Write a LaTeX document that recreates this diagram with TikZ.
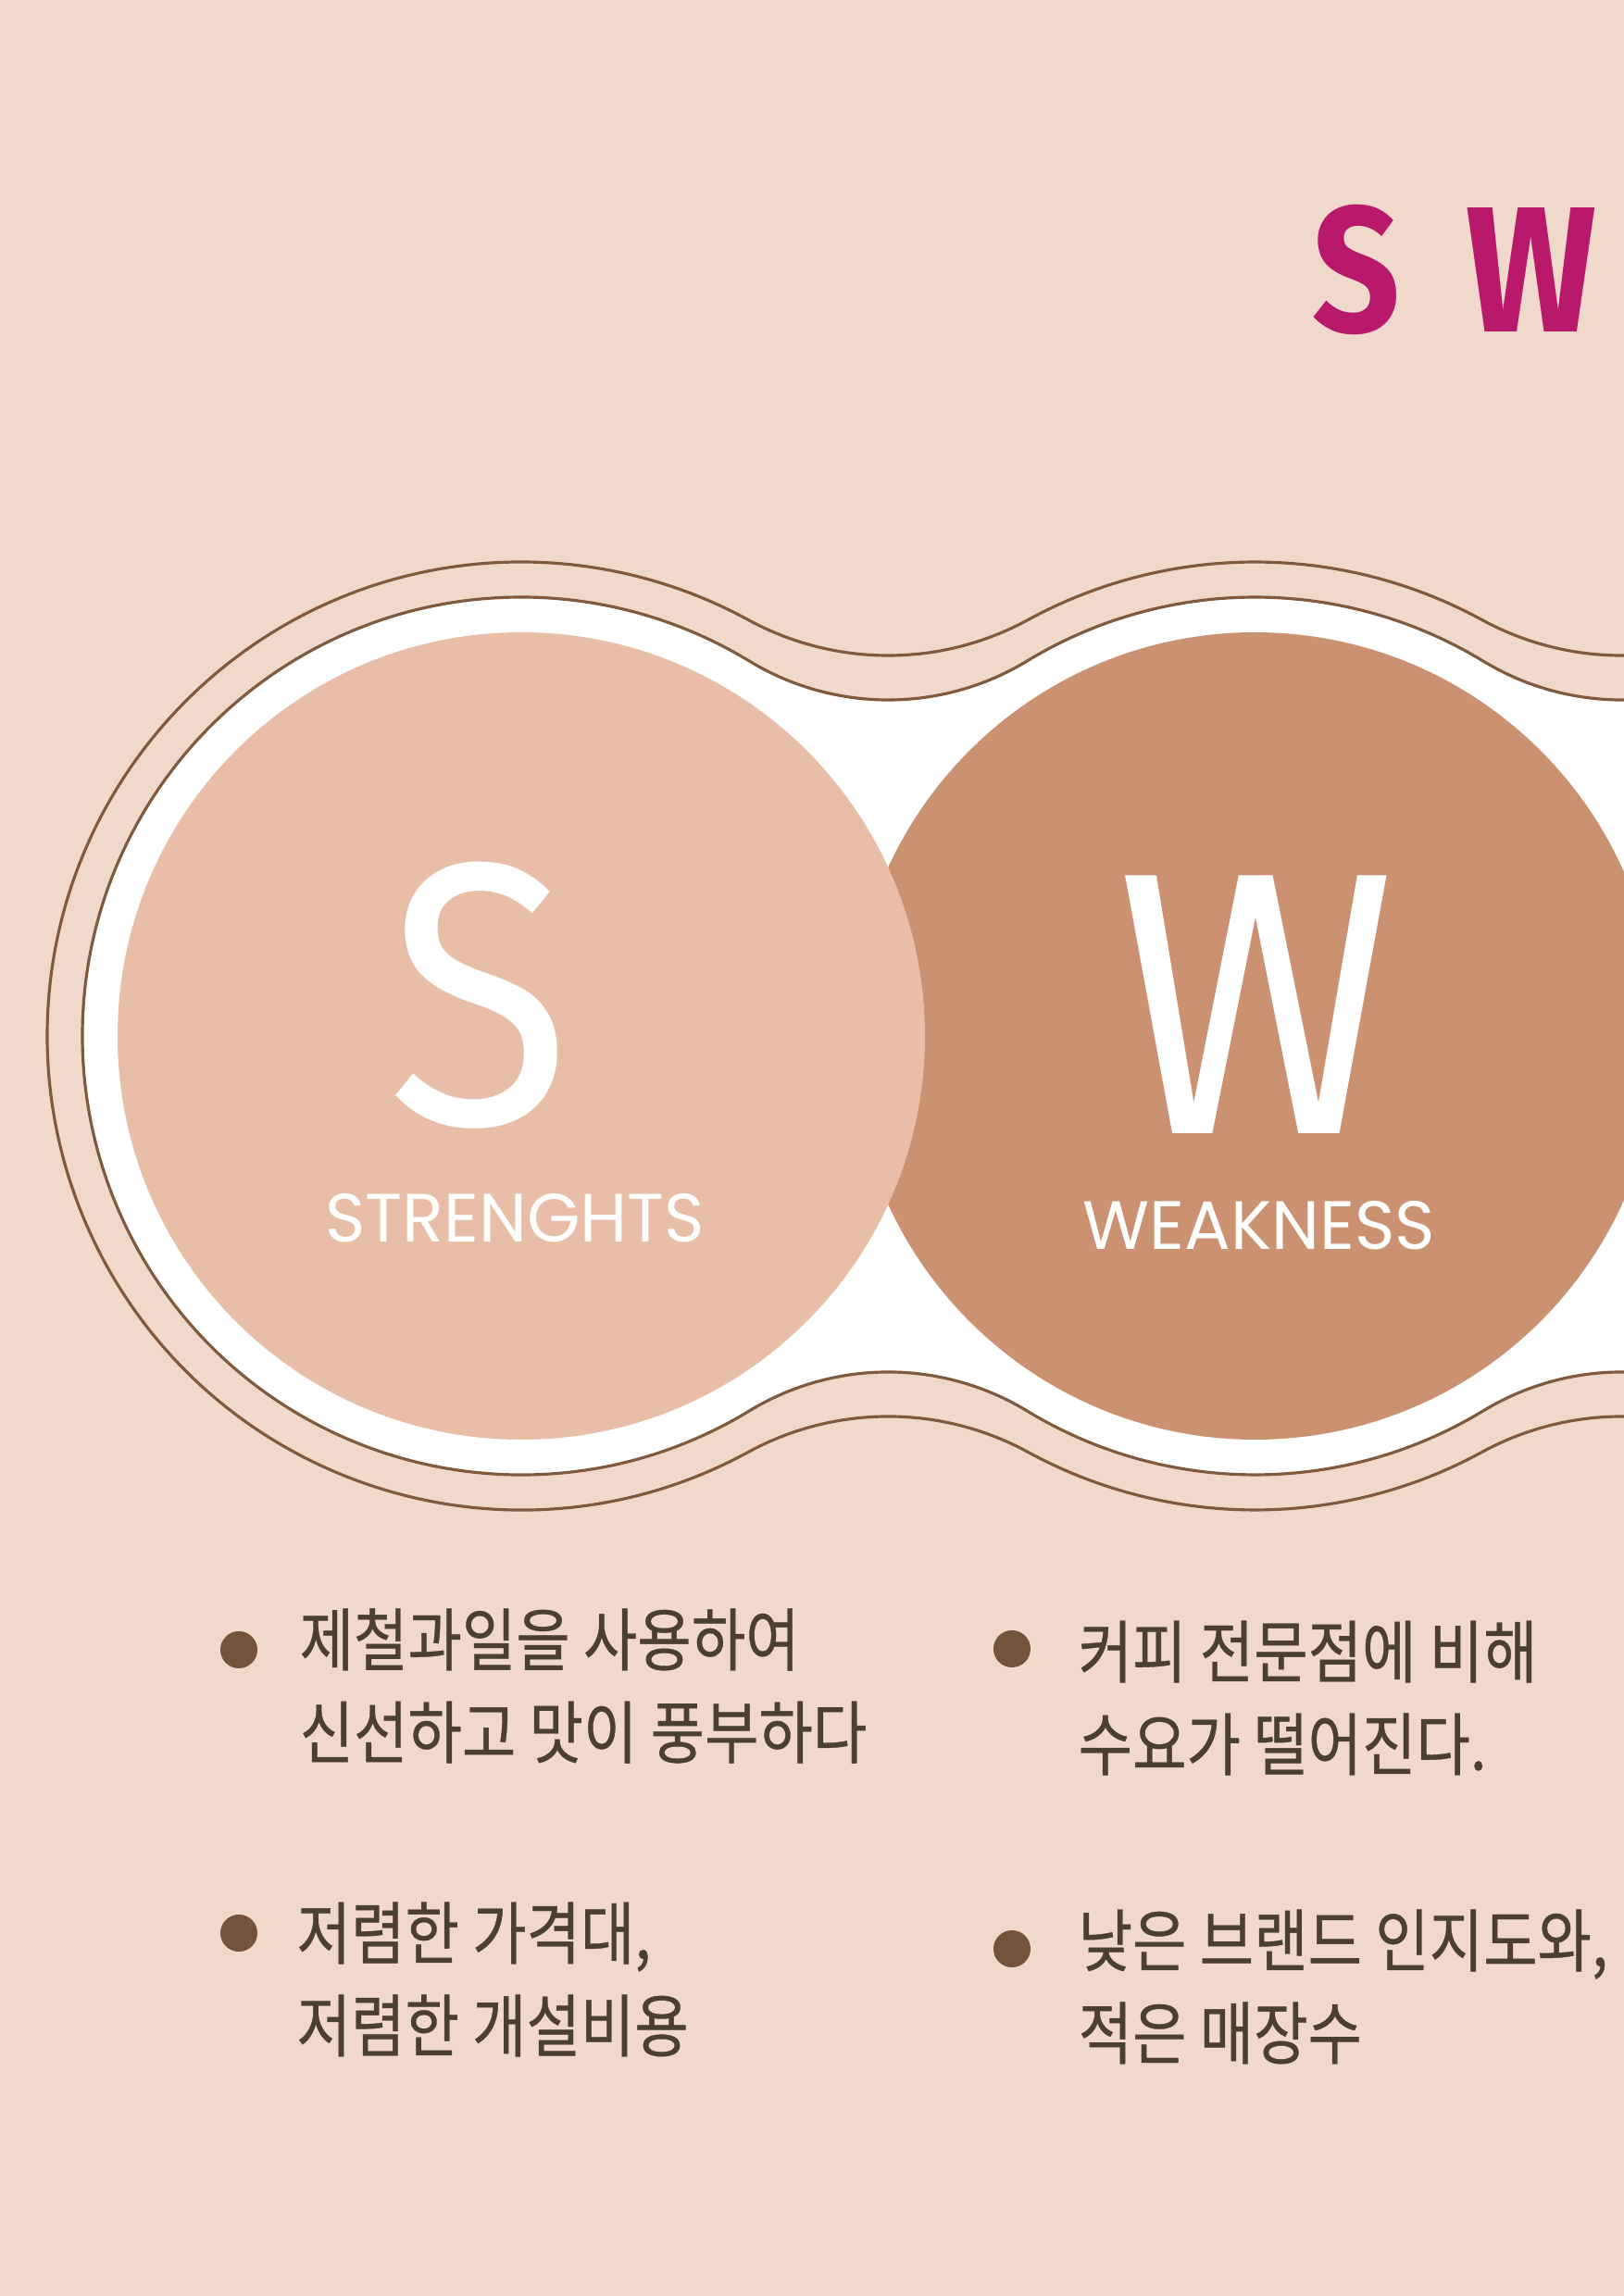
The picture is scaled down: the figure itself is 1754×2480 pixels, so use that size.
\documentclass[tikz,border=0pt]{standalone}
\usepackage{fontspec}
\usepackage{xcolor}
\usepackage{tikz}
\usetikzlibrary{positioning}
\setmainfont{Poppins}
\newfontfamily\krfont[FakeStretch=0.86, FakeBold=0.5]{Noto Sans CJK KR}
\newfontfamily\handfont[FakeStretch=0.9]{Fira Sans}
\newfontfamily\titlefont[FakeStretch=0.86]{Fira Sans}
\definecolor{swpaper}{RGB}{240,217,202}
\definecolor{swline}{RGB}{128,90,62}
\definecolor{swlight}{RGB}{232,190,168}
\definecolor{swdark}{RGB}{203,146,114}
\definecolor{swmagenta}{RGB}{184,25,106}
\definecolor{swdot}{RGB}{116,83,61}
\definecolor{swink}{RGB}{74,64,48}

\tikzset{
  bigletter/.style={text=white, inner sep=0pt, font=\handfont\fontsize{115}{115}\selectfont},
  caption/.style={text=white, inner sep=0pt, font=\fontsize{21}{21}\selectfont},
  dot/.style={circle, fill=swdot, minimum size=0.4cm, inner sep=0pt},
  point/.style={anchor=west, align=left, inner sep=0pt, text=swink, font=\krfont\fontsize{21}{28.45}\selectfont},
}

\begin{document}
\begin{tikzpicture}[x=0.01cm, y=0.01cm]
\useasboundingbox (0,0) rectangle (1754,2480);
\clip (0,0) rectangle (1754,2480);
\fill[swpaper] (0,0) rectangle (1754,2480);

\node[text=swmagenta, inner sep=0pt, font=\titlefont\bfseries\fontsize{55}{55}\selectfont] (title) at (1571,2189) {S\hspace{20pt}W};

\draw[line width=0.9pt, color=swline]
 (51,1361) arc[start angle=180, end angle=61.4, radius=512]
 arc[start angle=241.4, end angle=298.6, radius=315.8]
 arc[start angle=118.6, end angle=61.4, radius=512]
 arc[start angle=241.4, end angle=298.6, radius=315.8]
 arc[start angle=118.6, end angle=-118.6, radius=512]
 arc[start angle=61.4, end angle=118.6, radius=315.8]
 arc[start angle=-61.4, end angle=-118.6, radius=512]
 arc[start angle=61.4, end angle=118.6, radius=315.8]
 arc[start angle=-61.4, end angle=-180, radius=512] -- cycle;
\filldraw[fill=white, line width=0.9pt, draw=swline]
 (89,1361) arc[start angle=180, end angle=58.7, radius=474]
 arc[start angle=238.7, end angle=301.3, radius=288.8]
 arc[start angle=121.3, end angle=58.7, radius=474]
 arc[start angle=238.7, end angle=301.3, radius=288.8]
 arc[start angle=121.3, end angle=-121.3, radius=474]
 arc[start angle=58.7, end angle=121.3, radius=288.8]
 arc[start angle=-58.7, end angle=-121.3, radius=474]
 arc[start angle=58.7, end angle=121.3, radius=288.8]
 arc[start angle=-58.7, end angle=-180, radius=474] -- cycle;

\fill[swdark] (1355.5,1361) circle[radius=436];
\fill[swlight] (563,1361) circle[radius=436];

\node[bigletter] (sletter) at (518,1405) {S};
\node[caption] (scaption) at (556,1164) {STRENGHTS};
\node[bigletter] (wletter) at (1357,1395) {W};
\node[caption] (wcaption) at (1360,1156) {WEAKNESS};

\node[dot] (dotone) at (258,698) {};
\node[point] (pointone) at (323,659) {제철과일을 사용하여\\신선하고 맛이 풍부하다};
\node[dot] (dottwo) at (258,392) {};
\node[point] (pointtwo) at (320,342) {저렴한 가격대,\\저렴한 개설비용};
\node[dot] (dotthree) at (1093,699) {};
\node[point] (pointthree) at (1164,646) {커피 전문점에 비해\\수요가 떨어진다.};
\node[dot] (dotfour) at (1093,375) {};
\node[point] (pointfour) at (1164,334) {낮은 브랜드 인지도와,\\적은 매장수};
\end{tikzpicture}
\end{document}
